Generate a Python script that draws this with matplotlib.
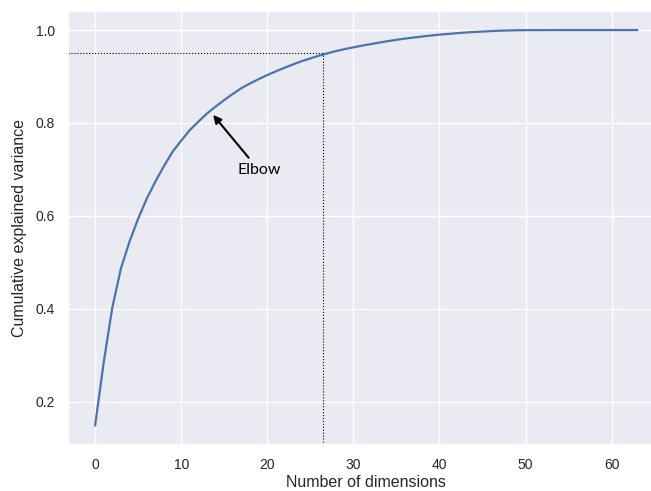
import matplotlib
matplotlib.use("Agg")
import matplotlib.pyplot as plt
import seaborn as sns

dims = list(range(64))
cumvar = [0.1489, 0.2851, 0.4030, 0.4871, 0.5450, 0.5941, 0.6373, 0.6739,
          0.7074, 0.7382, 0.7620, 0.7847, 0.8029, 0.8206, 0.8353, 0.8494,
          0.8626, 0.8751, 0.8852, 0.8943, 0.9032, 0.9112, 0.9188, 0.9261,
          0.9330, 0.9390, 0.9448, 0.9500, 0.9548, 0.9591, 0.9628, 0.9664,
          0.9697, 0.9730, 0.9761, 0.9790, 0.9816, 0.9839, 0.9861, 0.9882,
          0.9901, 0.9917, 0.9932, 0.9946, 0.9958, 0.9968, 0.9978, 0.9986,
          0.9991, 0.9995, 0.9998, 0.9998, 0.9999, 0.9999, 1.0000, 1.0000,
          1.0000, 1.0000, 1.0000, 1.0000, 1.0000, 1.0000, 1.0000, 1.0000]
threshold = 0.95
d_line = 26.5
x_ticks = [0, 10, 20, 30, 40, 50, 60]
y_ticks = [0.2, 0.4, 0.6, 0.8, 1.0]

sns.set_theme(style="darkgrid")
plt.rcParams['font.family'] = ['Liberation Sans', 'DejaVu Sans']

fig = plt.figure(figsize=(6.51, 4.91), dpi=100)
ax = fig.add_axes([68/651, 1 - 445/491, (664.6 - 68)/651, (445 - 11)/491])

ax.plot(dims, cumvar, color="#4c72b0", lw=1.6)
xmin, xmax = -3.15, 66.15
ymin, ymax = 0.107, 1.041
ax.set_xlim(xmin, xmax)
ax.set_ylim(ymin, ymax)
ax.plot([d_line, d_line], [ymin, threshold], color="black", ls=":", lw=0.8)
ax.plot([xmin, d_line], [threshold, threshold], color="black", ls=":", lw=0.8)

ax.annotate("Elbow", xy=(13.5, 0.822), xytext=(16.5, 0.69),
            fontsize=11.5, family=["Lato", "DejaVu Sans"], color="black",
            arrowprops=dict(arrowstyle="-|>", color="black", lw=1.5,
                            mutation_scale=12))

ax.set_xticks(x_ticks)
ax.set_yticks(y_ticks)
ax.tick_params(labelsize=10, colors="#262626")
ax.set_xlabel("Number of dimensions", fontsize=11.5, color="#262626", labelpad=2)
ax.set_ylabel("Cumulative explained variance", fontsize=11.5, color="#262626", labelpad=6)

fig.savefig("out.png", dpi=100)
